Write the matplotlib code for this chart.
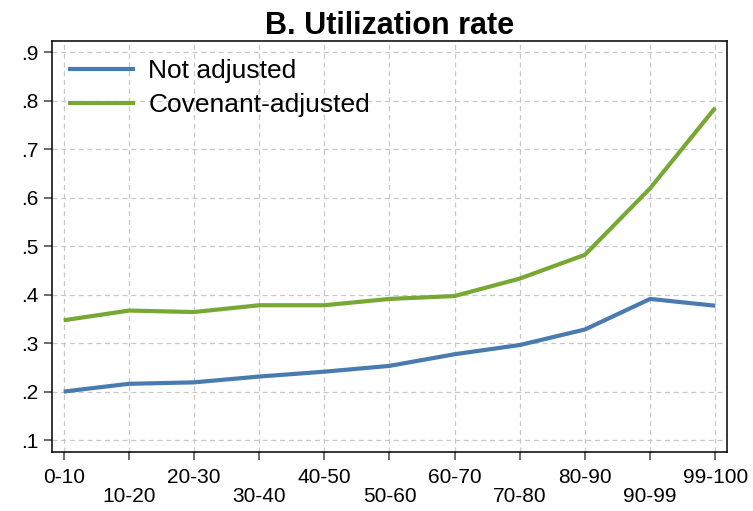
import numpy as np
import matplotlib
matplotlib.use("Agg")
import matplotlib.pyplot as plt

plt.rcParams['font.family'] = ['Liberation Sans', 'DejaVu Sans']

# Catégories (déciles) et séries
categories = ["0-10", "10-20", "20-30", "30-40", "40-50", "50-60",
              "60-70", "70-80", "80-90", "90-99", "99-100"]
not_adjusted = [0.200, 0.216, 0.219, 0.231, 0.241, 0.253,
                0.277, 0.296, 0.328, 0.391, 0.377]
covenant_adjusted = [0.347, 0.367, 0.364, 0.378, 0.378, 0.391,
                     0.397, 0.433, 0.482, 0.619, 0.785]
y_ticks = [0.1, 0.2, 0.3, 0.4, 0.5, 0.6, 0.7, 0.8, 0.9]
y_labels = [".1", ".2", ".3", ".4", ".5", ".6", ".7", ".8", ".9"]

fig = plt.figure(figsize=(7.53, 5.11), dpi=100)
ax = fig.add_axes([0.069, 0.116, 0.8965, 0.804])

x = np.arange(len(categories))
ax.plot(x, not_adjusted, color="#4a7bb0", lw=3.0, label="Not adjusted",
        solid_capstyle="butt")
ax.plot(x, covenant_adjusted, color="#77a833", lw=3.0,
        label="Covenant-adjusted", solid_capstyle="butt")

ax.set_xlim(-0.18, 10.18)
ax.set_ylim(0.076, 0.923)

# Étiquettes décalées sur deux lignes
xlabels = [c if i % 2 == 0 else "\n" + c for i, c in enumerate(categories)]
ax.set_xticks(x)
ax.set_xticklabels(xlabels, fontsize=15, linespacing=0.95)
ax.set_yticks(y_ticks)
ax.set_yticklabels(y_labels, fontsize=15)
ax.tick_params(length=6, width=1.1, color="#444444", pad=4)
ax.tick_params(axis="x", pad=6)

ax.grid(True, linestyle=(0, (4, 3)), color="#c8c8c8", linewidth=0.9)
ax.set_axisbelow(True)
for s in ax.spines.values():
    s.set_linewidth(1.1)

ax.set_title("B. Utilization rate", fontsize=22, fontweight="bold", pad=5)

ax.legend(loc="upper left", fontsize=19, frameon=False, handlelength=2.55,
          handletextpad=0.5, labelspacing=0.38, borderaxespad=0.2,
          bbox_to_anchor=(0.0, 0.995))

fig.savefig("out.png", dpi=100)
